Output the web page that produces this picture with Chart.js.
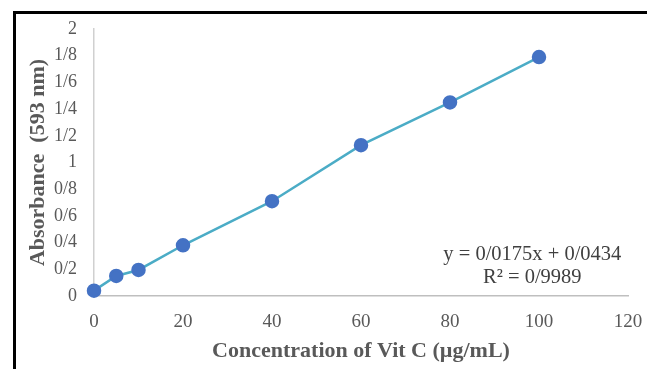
<!DOCTYPE html>
<html><head><meta charset="utf-8">
<script src="https://cdn.jsdelivr.net/npm/chart.js@4.4.0/dist/chart.umd.min.js"></script>
<style>
html,body{margin:0;padding:0;background:#fff;overflow:hidden}
#frame{position:absolute;left:13px;top:11px;width:700px;height:400px;border:3px solid #000;box-sizing:border-box}
#wrap{position:absolute;left:0;top:0;width:647px;height:369px}
</style></head>
<body>
<div id="frame"></div>
<div id="wrap"><canvas id="c" width="647" height="369"></canvas></div>
<script>
const concentrations = [0, 5, 10, 20, 40, 60, 80, 100];
const absorbance = [0.04, 0.15, 0.195, 0.38, 0.71, 1.13, 1.45, 1.79];
const yTickLabels = ["0","0/2","0/4","0/6","0/8","1","1/2","1/4","1/6","1/8","2"];
const equationLines = ["y = 0/0175x + 0/0434", "R² = 0/9989"];
const xTitle = "Concentration of Vit C (µg/mL)";
const yTitle = "Absorbance  (593 nm)";

const eqPlugin = {
  id: 'eq',
  afterDraw(chart) {
    const ctx = chart.ctx;
    const xs = chart.scales.x, ys = chart.scales.y;
    ctx.save();
    ctx.font = '20.5px "Liberation Serif"';
    ctx.fillStyle = '#404040';
    ctx.textAlign = 'center';
    ctx.textBaseline = 'middle';
    const cx = xs.getPixelForValue(98.5);
    ctx.fillText(equationLines[0], cx, ys.getPixelForValue(0.31));
    ctx.fillText(equationLines[1], cx, ys.getPixelForValue(0.14));
    ctx.restore();
  }
};

new Chart(document.getElementById('c'), {
  type: 'scatter',
  data: {
    datasets: [{
      data: concentrations.map((x, i) => ({x, y: absorbance[i]})),
      showLine: true,
      borderColor: '#4bacc6',
      borderWidth: 2.5,
      backgroundColor: '#4472c4',
      pointBackgroundColor: '#4472c4',
      pointBorderColor: '#4472c4',
      pointRadius: 6,
      pointHoverRadius: 6,
      clip: false
    }]
  },
  options: {
    responsive: false,
    animation: false,
    events: [],
    layout: {padding: {left: 25, right: 19, top: 29, bottom: 0}},
    plugins: {legend: {display: false}, tooltip: {enabled: false}},
    scales: {
      x: {
        type: 'linear', min: 0, max: 120,
        grid: {display: false, drawTicks: false},
        border: {display: true, color: '#bfbfbf', width: 1.5},
        ticks: {stepSize: 20, padding: 15, color: '#595959', font: {family: 'Liberation Serif', size: 19}},
        title: {display: true, text: xTitle, color: '#595959', padding: {top: 0, bottom: 4},
                font: {family: 'Liberation Serif', size: 22, weight: 'bold'}},
        afterFit(s) { s.height = 73; s.paddingLeft = 0; s.paddingRight = 0; }
      },
      y: {
        type: 'linear', min: 0, max: 2,
        grid: {display: false, drawTicks: false},
        border: {display: true, color: '#d0d0d0', width: 1.5},
        ticks: {stepSize: 0.2, padding: 17, color: '#595959', font: {family: 'Liberation Serif', size: 18},
                callback: (v, i) => yTickLabels[i]},
        title: {display: true, text: yTitle, color: '#595959', padding: {top: 0, bottom: 0},
                font: {family: 'Liberation Serif', size: 22, weight: 'bold'}},
        afterFit(s) { s.width = 69; }
      }
    }
  },
  plugins: [eqPlugin]
});
</script>
</body></html>
